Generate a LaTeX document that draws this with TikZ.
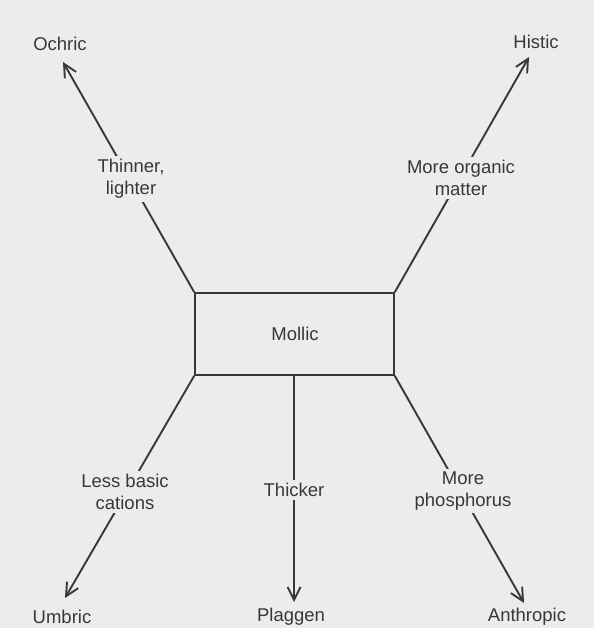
\documentclass[tikz,border=0pt]{standalone}
\usepackage{fontspec}
\setmainfont{Liberation Sans}
\usetikzlibrary{arrows.meta}
\definecolor{paper}{RGB}{236,236,236}
\definecolor{ink}{RGB}{56,56,56}
\begin{document}
\begin{tikzpicture}[x=1pt,y=-1pt,
  txt/.style={text=ink,font=\fontsize{18.5}{22}\selectfont,align=center,inner sep=0pt},
  lbl/.style={txt,fill=paper,inner sep=3pt},
  conn/.style={draw=ink,line width=1.9pt},
  arr/.style={conn,-{Straight Barb[length=13pt,width=13pt,line width=1.9pt]}},
  boxst/.style={draw=ink,line width=1.5pt,minimum width=199pt,minimum height=82pt,inner sep=0pt}]
\fill[paper] (0,0) rectangle (594,628);
\useasboundingbox (0,0) rectangle (594,628);
\node[boxst] (box) at (294.5,334) {};
\node[txt] (mollic) at (295,334) {Mollic};
% targets
\node[txt] (ochric) at (60,44) {Ochric};
\node[txt] (histic) at (536,42) {Histic};
\node[txt] (umbric) at (62,617) {Umbric};
\node[txt] (plaggen) at (291,617) {Plaggen};
\node[txt] (anthropic) at (527,617) {Anthropic};
\coordinate (tO) at (63,62);
\coordinate (tH) at (529,57);
\coordinate (tU) at (65,598);
\coordinate (tP) at (294,602);
\coordinate (tA) at (524,603);
\coordinate (bP) at (294,375);
% arrows
\draw[arr] (box.north west) -- (tO);
\draw[arr] (box.north east) -- (tH);
\draw[arr] (box.south west) -- (tU);
\draw[arr] (bP) -- (tP);
\draw[arr] (box.south east) -- (tA);
% labels on lines
\node[lbl] (thin) at (131,179) {Thinner,\\lighter};
\node[lbl] (org) at (461,178) {More organic\\matter};
\node[lbl] (less) at (125,492) {Less basic\\cations};
\node[lbl] (thick) at (294,490) {Thicker};
\node[lbl] (phos) at (463,491) {More\\phosphorus};
\end{tikzpicture}
\end{document}
